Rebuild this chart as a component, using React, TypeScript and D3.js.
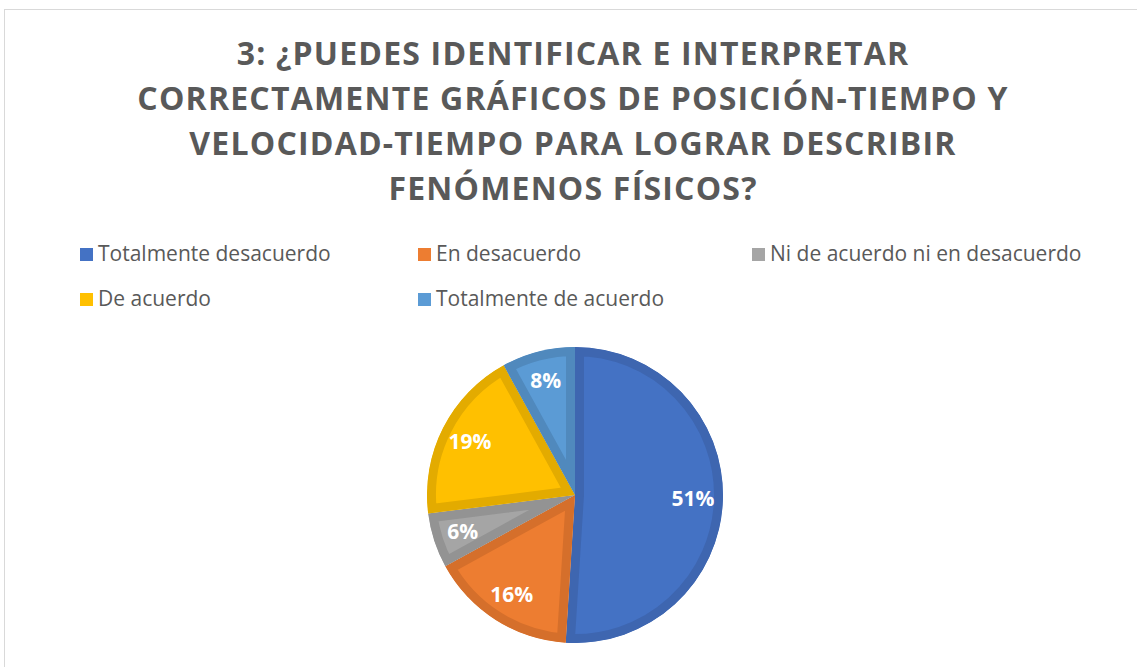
import { useMemo } from "react";
import * as d3 from "d3";

const WIDTH = 1137;
const HEIGHT = 667;

const TITLE_LINES = [
  "3: ¿PUEDES IDENTIFICAR E INTERPRETAR",
  "CORRECTAMENTE GRÁFICOS DE POSICIÓN-TIEMPO Y",
  "VELOCIDAD-TIEMPO PARA LOGRAR DESCRIBIR",
  "FENÓMENOS FÍSICOS?",
];

const categories = [
  "Totalmente desacuerdo",
  "En desacuerdo",
  "Ni de acuerdo ni en desacuerdo",
  "De acuerdo",
  "Totalmente de acuerdo",
];
const values = [51, 16, 6, 19, 8];
const fills = ["#4472C4", "#ED7D31", "#A5A5A5", "#FFC000", "#5B9BD5"];
const edges = ["#3E66B0", "#D56F2B", "#939393", "#E3AB00", "#5089BD"];

const CX = 575;
const CY = 495;
const RADIUS = 148;
const LABEL_R = 118;

const legendCols = d3.scaleOrdinal<number, number>().domain([0, 1, 2]).range([80, 418, 752]);
const legendRows = d3.scaleOrdinal<number, number>().domain([0, 1]).range([261, 306]);

const App = () => {
  const arcs = useMemo(
    () => d3.pie<number>().sort(null).value((d) => d)(values),
    []
  );
  const arcGen = d3.arc<d3.PieArcDatum<number>>().innerRadius(0).outerRadius(RADIUS);
  const labelArc = d3.arc<d3.PieArcDatum<number>>().innerRadius(LABEL_R).outerRadius(LABEL_R);
  const total = d3.sum(values);

  return (
    <svg
      width={WIDTH}
      height={HEIGHT}
      style={{ position: "absolute", left: 0, top: 0, display: "block" }}
    >
      <rect x={0} y={0} width={WIDTH} height={HEIGHT} fill="#fff" />
      <rect x={4.5} y={9.5} width={WIDTH + 20} height={HEIGHT + 20} fill="#fff" stroke="#D9D9D9" />

      {TITLE_LINES.map((line, i) => (
        <text
          key={i}
          x={573}
          y={65 + i * 45}
          textAnchor="middle"
          fontFamily="'Open Sans', sans-serif"
          fontWeight="bold"
          fontSize={32}
          letterSpacing={1.2}
          fill="#595959"
        >
          {line}
        </text>
      ))}

      {categories.map((name, i) => {
        const x = legendCols(i % 3);
        const y = legendRows(Math.floor(i / 3));
        return (
          <g key={name}>
            <rect x={x} y={y - 13} width={13} height={13} fill={fills[i]} />
            <text
              x={x + 18}
              y={y}
              fontFamily="'Open Sans', sans-serif"
              fontSize={21}
              fill="#595959"
            >
              {name}
            </text>
          </g>
        );
      })}

      <g transform={`translate(${CX},${CY})`}>
        <defs>
          {arcs.map((a, i) => (
            <clipPath key={i} id={`clip-${i}`}>
              <path d={arcGen(a) || ""} />
            </clipPath>
          ))}
        </defs>
        {arcs.map((a, i) => (
          <path
            key={i}
            d={arcGen(a) || ""}
            fill={fills[i]}
            stroke={edges[i]}
            strokeWidth={18}
            clipPath={`url(#clip-${i})`}
          />
        ))}
        {arcs.map((a, i) => {
          const [lx, ly] = labelArc.centroid(a);
          return (
            <text
              key={`l${i}`}
              x={lx}
              y={ly}
              dy="0.35em"
              textAnchor="middle"
              fontFamily="'Open Sans', sans-serif"
              fontWeight="bold"
              fontSize={21}
              fill="#fff"
            >
              {`${Math.round((a.data / total) * 100)}%`}
            </text>
          );
        })}
      </g>
    </svg>
  );
};

export default App;
